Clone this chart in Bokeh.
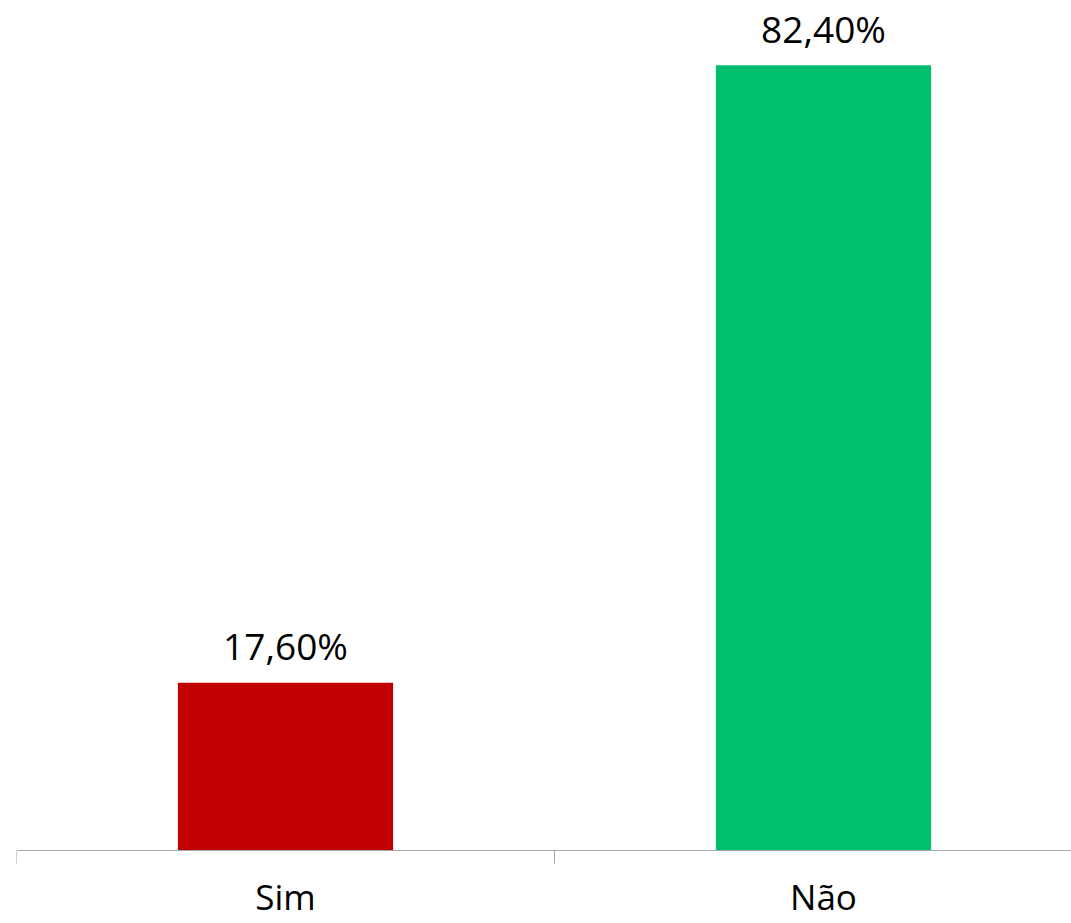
from bokeh.plotting import figure
from bokeh.models import Range1d, FixedTicker, ColumnDataSource
from bokeh.embed import file_html
from bokeh.resources import INLINE
from bokeh.core.properties import value

categories = ["Sim", "Não"]
percentages = [17.60, 82.40]
value_labels = ["17,60%", "82,40%"]
colors = ["#C00000", "#00C070"]

xs = list(range(len(categories)))
src = ColumnDataSource(dict(x=xs, top=percentages, label=value_labels, color=colors,
                            cat=categories, base=[0] * len(categories)))

p = figure(width=1071, height=923, output_backend="svg", toolbar_location=None,
           x_range=Range1d(-0.5, 1.461), y_range=Range1d(-7.66, 89.2),
           min_border_left=16, min_border_right=0, min_border_top=0, min_border_bottom=0,
           outline_line_color=None, background_fill_color="white",
           border_fill_color="white")

p.vbar(x="x", top="top", bottom=0, width=0.4, color="color", line_color=None, source=src)
p.text(x="x", y="top", text="label", source=src, text_align="center",
       text_baseline="alphabetic", y_offset=-37, text_font=value("Open Sans"),
       text_font_size="37px", text_color="black")
p.text(x="x", y="base", text="cat", source=src, text_align="center",
       text_baseline="alphabetic", y_offset=46, text_font=value("Open Sans"),
       text_font_size="35px", text_color="black")

p.yaxis.visible = False
p.xgrid.visible = False
p.ygrid.visible = False

xa = p.xaxis[0]
xa.fixed_location = 0
xa.ticker = FixedTicker(ticks=xs, minor_ticks=[-0.5, 0.5, 1.5])
xa.major_label_overrides = {i: "" for i in xs}
xa.major_label_text_font_size = "0px"
xa.major_label_standoff = 0
xa.major_tick_out = 0
xa.major_tick_in = 0
xa.minor_tick_out = 13
xa.minor_tick_in = 0
xa.minor_tick_line_color = "#A6A6A6"
xa.axis_line_color = "#A6A6A6"
xa.axis_line_width = 1

open("out.html", "w").write(file_html(p, INLINE))
